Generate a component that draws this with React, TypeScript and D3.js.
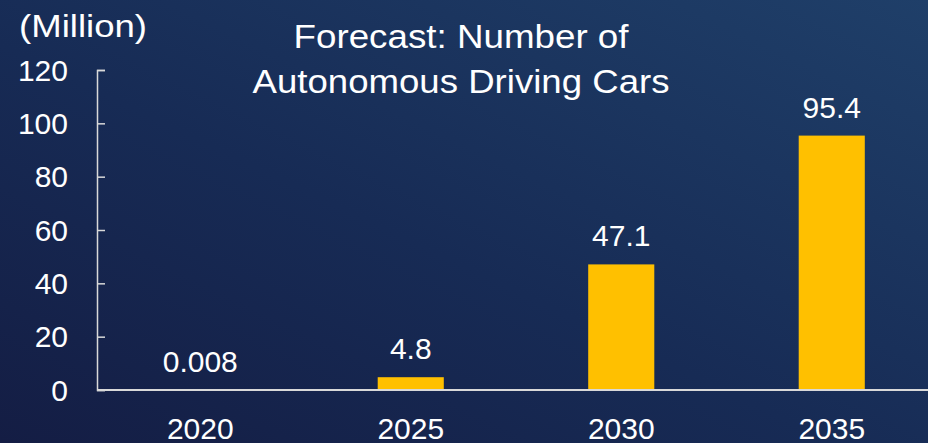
import { useEffect, useRef } from "react";
import * as d3 from "d3";

const years = ["2020", "2025", "2030", "2035"];
const cars = [0.008, 4.8, 47.1, 95.4];
const valueLabels = ["0.008", "4.8", "47.1", "95.4"];
const yTicks = [0, 20, 40, 60, 80, 100, 120];
const titleLines = ["Forecast: Number of", "Autonomous Driving Cars"];
const unitLabel = "(Million)";

const W = 928,
  H = 443;

function draw(node: SVGSVGElement) {
  const svg = d3.select(node);
  svg.selectAll("*").remove();

  const defs = svg.append("defs");
  const grad = defs
    .append("linearGradient")
    .attr("id", "bg")
    .attr("x1", 1)
    .attr("y1", 0)
    .attr("x2", 0)
    .attr("y2", 1);
  grad.append("stop").attr("offset", 0).attr("stop-color", "#1f3f69");
  grad.append("stop").attr("offset", 0.55).attr("stop-color", "#172b55");
  grad.append("stop").attr("offset", 1).attr("stop-color", "#141d44");

  svg.append("rect").attr("width", W).attr("height", H).attr("fill", "url(#bg)");

  const x = d3.scaleBand().domain(years).range([95, 937]).paddingInner(0.686).paddingOuter(0.343);
  const y = d3.scaleLinear().domain([0, 120]).range([390, 70]);
  const axisX = 97;
  const font = "'Liberation Sans', Arial, sans-serif";

  // bars
  svg
    .append("g")
    .selectAll("rect")
    .data(cars)
    .join("rect")
    .attr("x", (_, i) => x(years[i])!)
    .attr("width", x.bandwidth())
    .attr("y", (d) => y(d))
    .attr("height", (d) => y(0) - y(d))
    .attr("fill", "#ffc000");

  // y axis (ticks point inward)
  const gy = svg
    .append("g")
    .attr("transform", `translate(${axisX},0)`)
    .call(d3.axisRight(y).tickValues(yTicks).tickSize(8).tickFormat(() => ""));
  gy.selectAll("path, line").attr("stroke", "#d9d9d9").attr("stroke-width", 1.5);

  // x axis line
  svg
    .append("line")
    .attr("x1", axisX)
    .attr("x2", W)
    .attr("y1", y(0))
    .attr("y2", y(0))
    .attr("stroke", "#d9d9d9")
    .attr("stroke-width", 2);

  const txt = svg.append("g").attr("fill", "#ffffff").attr("font-family", font);

  // y tick labels
  txt
    .selectAll(".yl")
    .data(yTicks)
    .join("text")
    .attr("x", 68)
    .attr("y", (d) => y(d))
    .attr("dy", "0.35em")
    .attr("text-anchor", "end")
    .attr("font-size", 30)
    .text((d) => d);

  // x labels
  txt
    .selectAll(".xl")
    .data(years)
    .join("text")
    .attr("x", (d) => x(d)! + x.bandwidth() / 2)
    .attr("y", 439)
    .attr("text-anchor", "middle")
    .attr("font-size", 30)
    .text((d) => d);

  // value labels
  txt
    .selectAll(".vl")
    .data(cars)
    .join("text")
    .attr("x", (_, i) => x(years[i])! + x.bandwidth() / 2)
    .attr("y", (d) => y(d) - 18)
    .attr("text-anchor", "middle")
    .attr("font-size", 30)
    .text((_, i) => valueLabels[i]);

  // unit label
  txt
    .append("text")
    .attr("x", 19)
    .attr("y", 37)
    .attr("font-size", 32)
    .attr("textLength", 128)
    .attr("lengthAdjust", "spacingAndGlyphs")
    .text(unitLabel);

  // title
  const titleWidths = [335, 417];
  txt
    .selectAll(".tl")
    .data(titleLines)
    .join("text")
    .attr("x", (_, i) => 461 - titleWidths[i] / 2)
    .attr("y", (_, i) => 48 + i * 45)
    .attr("font-size", 34)
    .attr("textLength", (_, i) => titleWidths[i])
    .attr("lengthAdjust", "spacingAndGlyphs")
    .text((d) => d);
}

export default function App() {
  const ref = useRef<SVGSVGElement>(null);
  useEffect(() => {
    if (ref.current) draw(ref.current);
  }, []);
  return (
    <svg
      ref={ref}
      width={W}
      height={H}
      style={{ position: "absolute", left: 0, top: 0, display: "block" }}
    />
  );
}
